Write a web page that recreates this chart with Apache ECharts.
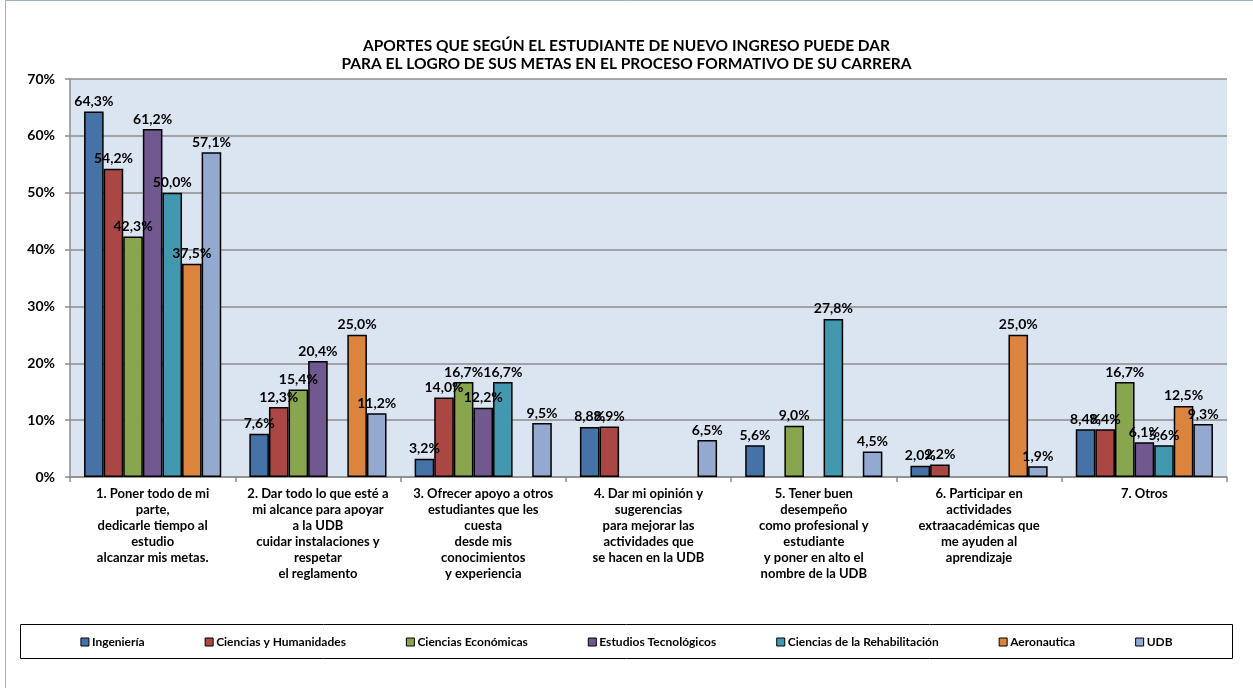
<!DOCTYPE html>
<html>
<head>
<meta charset="utf-8">
<script src="https://cdn.jsdelivr.net/npm/echarts@6/dist/echarts.min.js"></script>
<style>
  html, body { margin: 0; padding: 0; background: #fff; }
  #chart { width: 1253px; height: 688px; }
</style>
</head>
<body>
<div id="chart"></div>
<script>
// categorias (saltos de linea como en el original)
var categories = [
    '1. Poner todo de mi\nparte,\ndedicarle tiempo al\nestudio\nalcanzar mis metas.',
    '2. Dar todo lo que esté a\nmi alcance para apoyar\na la UDB\ncuidar instalaciones y\nrespetar\nel reglamento',
    '3. Ofrecer apoyo a otros\nestudiantes que les\ncuesta\ndesde mis\nconocimientos\ny experiencia',
    '4. Dar mi opinión y\nsugerencias\npara mejorar las\nactividades que\nse hacen en la UDB',
    '5. Tener buen\ndesempeño\ncomo profesional y\nestudiante\ny poner en alto el\nnombre de la UDB',
    '6. Participar en\nactividades\nextraacadémicas que\nme ayuden al\naprendizaje',
    '7. Otros'
]

var seriesNames = ['Ingeniería', 'Ciencias y Humanidades', 'Ciencias Económicas',
    'Estudios Tecnológicos', 'Ciencias de la Rehabilitación', 'Aeronautica', 'UDB']

var ingenieria   = [64.3, 7.6, 3.2, 8.8, 5.6, 2.0, 8.4]
var humanidades  = [54.2, 12.3, 14.0, 8.9, null, 2.2, 8.4]
var economicas   = [42.3, 15.4, 16.7, null, 9.0, null, 16.7]
var tecnologicos = [61.2, 20.4, 12.2, null, null, null, 6.1]
var rehabilitacion = [50.0, null, 16.7, null, 27.8, null, 5.6]
var aeronautica  = [37.5, 25.0, null, null, null, 25.0, 12.5]
var udb          = [57.1, 11.2, 9.5, 6.5, 4.5, 1.9, 9.3]

var yTicks = { min: 0, max: 70, interval: 10 }

var colors = ['#4572A7', '#AA4643', '#89A54E', '#71588F', '#4198AF', '#DB843D', '#93A9CF']
var allData = [ingenieria, humanidades, economicas, tecnologicos, rehabilitacion, aeronautica, udb]

var font = 'Lato, "Open Sans", sans-serif'

var chart = echarts.init(document.getElementById('chart'))

var series = seriesNames.map(function(name, i) {
    return {
        name: name,
        type: 'bar',
        data: allData[i],
        barGap: '0%',
        barCategoryGap: '17%',
        itemStyle: {
            color: colors[i],
            borderColor: '#000',
            borderWidth: 1.5
        },
        label: {
            show: true,
            position: 'top',
            distance: 3,
            color: '#000',
            fontFamily: font,
            fontWeight: 'bold',
            fontSize: 14,
            formatter: function(p) {
                if (p.value == null) return ''
                return p.value.toFixed(1).replace('.', ',') + '%'
            }
        }
    }
})

var option = {
    backgroundColor: '#fff',
    animation: false,
    title: {
        text: 'APORTES QUE SEGÚN EL ESTUDIANTE DE NUEVO INGRESO PUEDE DAR\nPARA EL LOGRO DE SUS METAS EN EL PROCESO FORMATIVO DE SU CARRERA',
        left: 'center',
        top: 32,
        textStyle: {
            fontFamily: font,
            fontWeight: 'bold',
            fontSize: 15.5,
            lineHeight: 18,
            color: '#000'
        }
    },
    graphic: [
        {
            type: 'rect',
            shape: { x: 5.5, y: 0.5, width: 1300, height: 700 },
            style: { fill: 'none', stroke: '#9AB0CF', lineWidth: 1 },
            silent: true
        },
        {
            type: 'rect',
            shape: { x: 20.5, y: 624.5, width: 1212, height: 34 },
            style: { fill: 'none', stroke: '#000', lineWidth: 1 },
            silent: true
        }
    ],
    legend: {
        data: seriesNames,
        left: 'center',
        top: 631,
        icon: 'rect',
        itemWidth: 8,
        itemHeight: 8,
        itemGap: 60,
        itemStyle: { borderColor: '#000', borderWidth: 1 },
        textStyle: {
            fontFamily: font,
            fontWeight: 'bold',
            fontSize: 12,
            color: '#000',
            padding: [0, 0, 0, -2]
        }
    },
    grid: {
        left: 70,
        right: 26,
        top: 79,
        bottom: 211,
        show: true,
        backgroundColor: '#DBE5F1',
        borderWidth: 0
    },
    xAxis: {
        type: 'category',
        data: categories,
        axisLine: { lineStyle: { color: '#8C8C8C', width: 1.5 } },
        axisTick: { show: true, length: 5, alignWithLabel: false, lineStyle: { color: '#8C8C8C', width: 1.5 } },
        axisLabel: {
            interval: 0,
            margin: 9,
            color: '#000',
            fontFamily: font,
            fontWeight: 'bold',
            fontSize: 13,
            lineHeight: 16
        }
    },
    yAxis: {
        type: 'value',
        min: yTicks.min,
        max: yTicks.max,
        interval: yTicks.interval,
        axisLine: { show: true, lineStyle: { color: '#8C8C8C', width: 1.5 } },
        axisTick: { show: true, length: 5, lineStyle: { color: '#8C8C8C', width: 1.5 } },
        splitLine: { lineStyle: { color: '#8C8C8C', width: 1.5 } },
        axisLabel: {
            formatter: '{value}%',
            margin: 15,
            color: '#000',
            fontFamily: font,
            fontWeight: 'bold',
            fontSize: 14
        }
    },
    series: series
}

chart.setOption(option)
</script>
</body>
</html>
